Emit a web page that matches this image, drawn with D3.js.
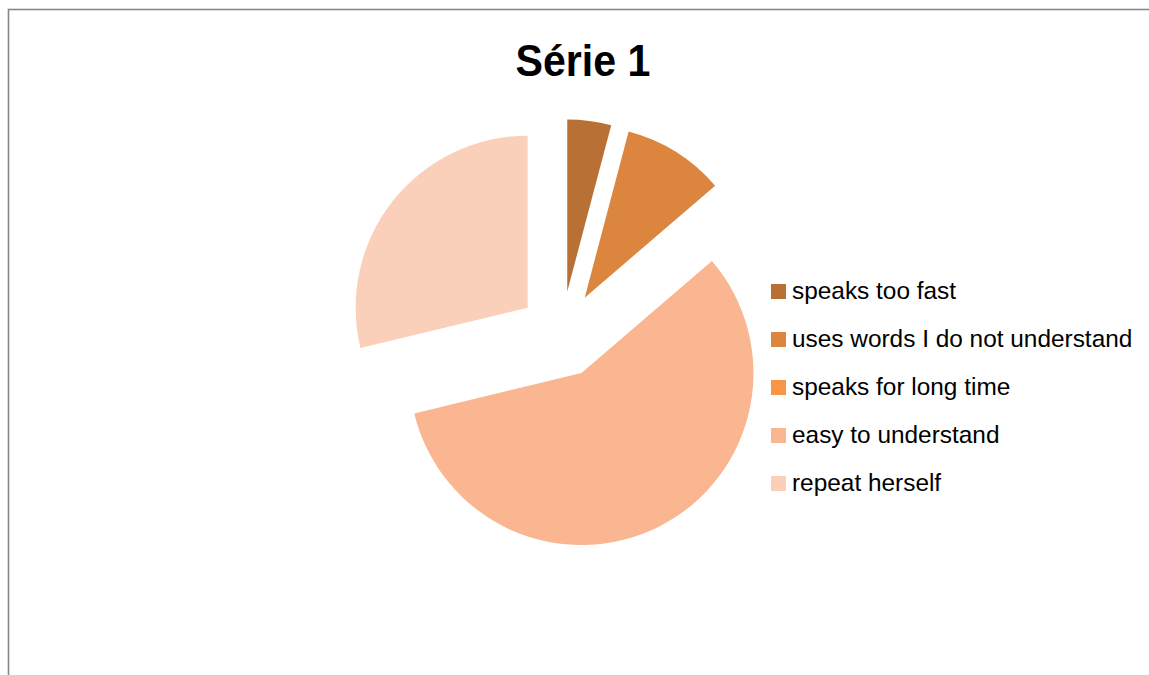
<!DOCTYPE html>
<html>
<head>
<meta charset="utf-8">
<script src="https://cdn.jsdelivr.net/npm/d3@7"></script>
<style>
  html, body { margin: 0; padding: 0; background: #fff; }
  svg { display: block; }
</style>
</head>
<body>
<div id="chart"></div>
<script>
// Chart data
const title = 'Série 1';
const categories = ['speaks too fast', 'uses words I do not understand', 'speaks for long time', 'easy to understand', 'repeat herself'];
const values = [3, 7, 0, 42, 21];
const colors = ['#B97034', '#DC853F', '#F79646', '#F9B690', '#FBD0BA'];

const width = 1149;
const height = 675;

const svg = d3.select('#chart')
  .append('svg')
  .attr('width', width)
  .attr('height', height);

// Chart area frame (runs off the right and bottom edges)
svg.append('rect')
  .attr('x', 8.5)
  .attr('y', 9.5)
  .attr('width', 1300)
  .attr('height', 800)
  .attr('fill', '#fff')
  .attr('stroke', '#878787')
  .attr('stroke-width', 1.6);

// Title
svg.append('text')
  .attr('x', 583)
  .attr('y', 76)
  .attr('text-anchor', 'middle')
  .attr('font-family', 'Liberation Sans, Arial, sans-serif')
  .attr('font-weight', 'bold')
  .attr('font-size', 45)
  .attr('textLength', 135)
  .attr('lengthAdjust', 'spacingAndGlyphs')
  .attr('fill', '#000')
  .text(title);

// Exploded pie
const cx = 561.7, cy = 334.5;
const radius = 172;
const explode = 0.252 * radius;

const pie = d3.pie().sort(null).value(d => d)(values);
const arc = d3.arc().innerRadius(0).outerRadius(radius);

const pieG = svg.append('g')
  .attr('transform', `translate(${cx}, ${cy})`);

pieG.selectAll('path')
  .data(pie.filter(d => d.value > 0))
  .join('path')
  .attr('d', arc)
  .attr('fill', d => colors[d.index])
  .attr('transform', d => {
    const mid = (d.startAngle + d.endAngle) / 2;
    return `translate(${Math.sin(mid) * explode}, ${-Math.cos(mid) * explode})`;
  });

// Legend
const legendY = d3.scalePoint()
  .domain(categories)
  .range([299, 491]);

const legend = svg.append('g')
  .selectAll('g')
  .data(categories)
  .join('g')
  .attr('transform', d => `translate(771, ${legendY(d)})`);

legend.append('rect')
  .attr('x', 0)
  .attr('y', -15)
  .attr('width', 15)
  .attr('height', 15)
  .attr('fill', (d, i) => colors[i]);

legend.append('text')
  .attr('x', 21)
  .attr('y', 0)
  .attr('font-family', 'Liberation Sans, Arial, sans-serif')
  .attr('font-size', 24.4)
  .attr('fill', '#000')
  .text(d => d);
</script>
</body>
</html>
